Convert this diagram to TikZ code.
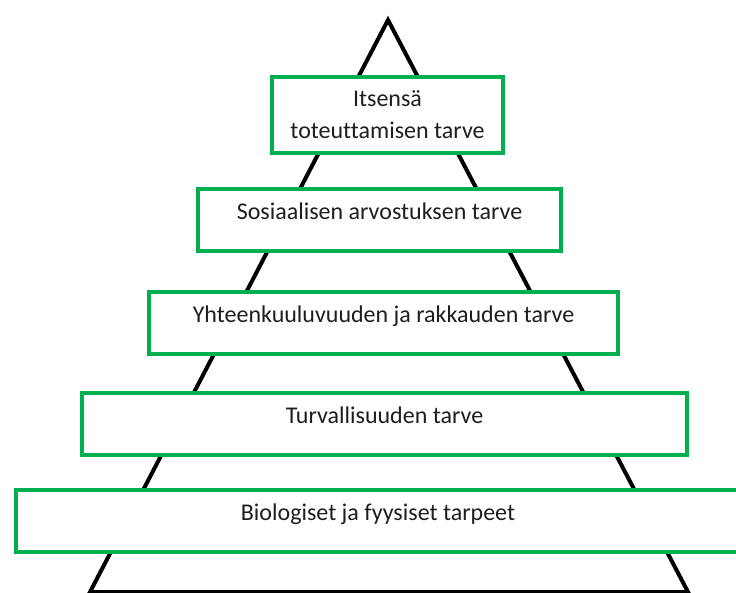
\documentclass[tikz,border=0pt]{standalone}
\usepackage{fontspec}
\setmainfont[Ligatures=NoCommon]{Carlito}
\usepackage{xcolor}
\definecolor{tasovihrea}{RGB}{0,176,80}
\definecolor{tekstiharmaa}{RGB}{30,30,30}
\usepackage{tikz}
\tikzset{
  laatikko/.style={rectangle,draw=tasovihrea,fill=white,line width=4pt,
    text=tekstiharmaa,font=\fontsize{24}{32}\selectfont,align=center,
    inner sep=0pt,outer sep=0pt,anchor=north west},
  tasobox/.style={laatikko,text height=30pt,text depth=31pt,minimum height=62pt},
  kolmio/.style={draw=black,line width=4pt,line join=miter},
}

\begin{document}
\begin{tikzpicture}[x=1pt,y=-1pt]
  \useasboundingbox (0,0) rectangle (736,592);
  % pyramidi taustalla
  \coordinate (huippu) at (388,20);
  \coordinate (vasen) at (90,592);
  \coordinate (oikea) at (688,592);
  \draw[kolmio] (huippu) -- (vasen) -- (oikea) -- cycle;
  % tasot ylhaalta alas
  \node[laatikko,minimum width=231pt,minimum height=76pt] (itse) at (272,77)
      {Itsensä\\toteuttamisen tarve};
  \node[tasobox,minimum width=363pt] (arvostus) at (198,189) {Sosiaalisen arvostuksen tarve};
  \node[tasobox,minimum width=469pt] (yhteys) at (149,292) {Yhteenkuuluvuuden ja rakkauden tarve};
  \node[tasobox,minimum width=605pt] (turva) at (82,393) {Turvallisuuden tarve};
  \node[tasobox,minimum width=724pt] (bio) at (16,490) {Biologiset ja fyysiset tarpeet};
\end{tikzpicture}
\end{document}
